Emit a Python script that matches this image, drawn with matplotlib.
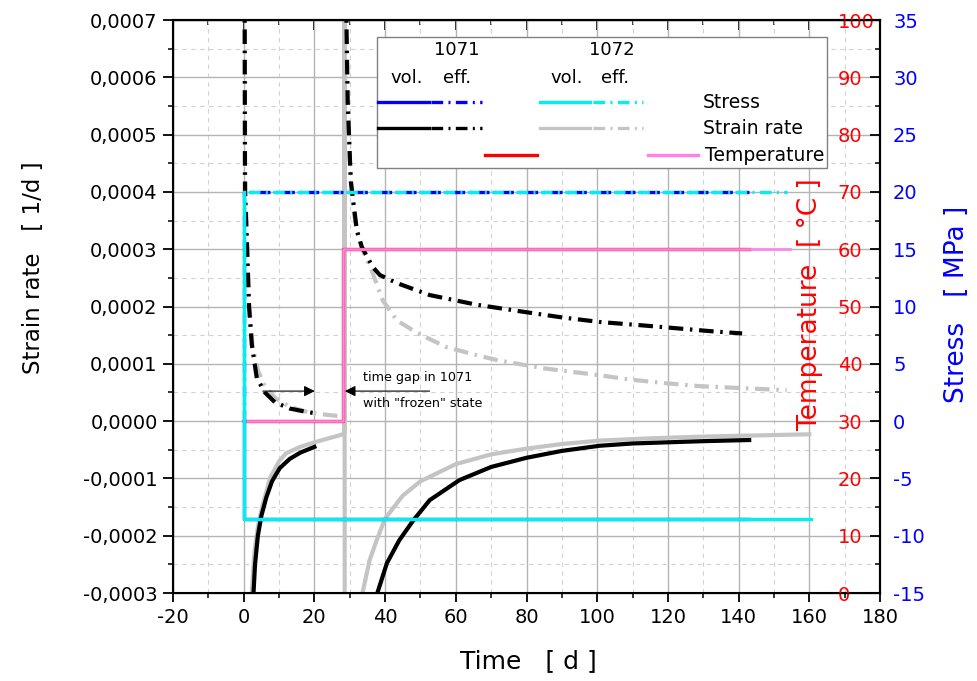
"""
Strain rate, temperature and stress of the creep tests 1071 and 1072.

Three y axes share one time axis:
strain rate on the left, temperature and stress on the right.
"""

import matplotlib.pyplot as plt
import numpy as np
from matplotlib.lines import Line2D
from matplotlib.patches import Rectangle
from matplotlib.ticker import FuncFormatter, MultipleLocator

nan = np.nan

# strain rates [1e-6 1/d], nan separates the parts before / after the time gap
SR71_EFF_T = [0.25, 0.35, 0.8, 1.5, 2.3, 3.7, 6.0, 8.8, 13.0, 17.8, 20.0, nan,
              28.8, 29.1, 29.4, 30.3, 32.0, 33.4, 36.5, 38.5, 43.3, 52.6, 66.0,
              80.0, 90.0, 100.7, 113.0, 122.5, 132.0, 141.0]
SR71_EFF = [800, 400, 330, 200, 133, 75, 50, 33, 22, 16, 14, nan,
            800, 680, 560, 418, 333, 304, 269, 255, 241, 220, 203,
            190, 181, 173, 167, 162, 157, 153]

SR72_EFF_T = [0.25, 0.4, 0.8, 1.5, 2.5, 4.0, 6.0, 9.0, 13.0, 18.0, 22.0, 26.6, nan,
              28.7, 29.2, 30.0, 31.0, 32.0, 33.7, 36.5, 39.3, 43.3, 49.0, 57.4,
              66.0, 72.0, 85.0, 100.7, 110.0, 119.6, 129.0, 139.5, 153.6]
SR72_EFF = [800, 450, 340, 210, 130, 89, 60, 40, 25, 16, 12, 9, nan,
            800, 600, 450, 370, 330, 298, 258, 211, 176, 154, 129,
            115, 106, 92, 80, 72, 66, 61, 58, 54]

SR71_VOL_T = [2.6, 3.2, 4.0, 5.0, 6.4, 8.0, 10.2, 13.0, 16.0, 20.0, nan,
              37.8, 40.5, 44.0, 48.0, 52.6, 61.0, 70.0, 80.0, 90.0, 100.7,
              110.0, 120.0, 130.0, 143.0]
SR71_VOL = [-320, -250, -200, -165, -133, -105, -82, -66, -55, -45, nan,
            -300, -248, -208, -173, -138, -103, -80, -64, -52, -43,
            -39, -37, -35, -33]

SR72_VOL_T = [2.3, 3.0, 4.0, 5.0, 7.4, 10.0, 12.0, 16.0, 20.0, 24.0, 27.0,
              28.4, 28.5, 28.6, nan,
              33.6, 35.6, 37.6, 40.0, 45.0, 50.0, 60.0, 70.0, 80.0, 90.0,
              100.7, 115.0, 130.0, 145.0, 160.0]
SR72_VOL = [-300, -230, -185, -155, -100, -70, -56, -45, -37, -30, -25,
            -22, 900, -900, nan,
            -300, -243, -208, -170, -130, -105, -75, -58, -48, -40,
            -34, -30, -27, -25, -23]

# temperature [°C]
T71_T = [0.0, 28.0, 28.0, 143.0]
T71 = [30, 30, 60, 60]
T72_T = [0.0, 28.0, 28.0, 154.5]
T72 = [30, 30, 60, 60]

# stress [MPa]
S71_VOL_T = [0.0, 0.0, 143.0]
S71_VOL = [0, -8.5, -8.5]
S71_EFF_T = [0.0, 0.0, 143.0]
S71_EFF = [0, 20, 20]
S72_VOL_T = [0.0, 0.0, 160.5]
S72_VOL = [20, -8.5, -8.5]
S72_EFF_T = [0.0, 0.0, 153.6]
S72_EFF = [0, 20, 20]

BLUE = "#0000ff"
CYAN = "#00f0f0"
GRAY = "#c4c4c4"
RED = "#ff0000"
PINK = "#ff80e8"
DASHDOT = (0, (3.5, 1.6, 0.6, 1.6))
DASHDOT_SHIFT = (3.0, (3.5, 1.6, 0.6, 1.6))


def to_axes(px: float, py: float) -> tuple:
    """Convert picture pixels to axes fractions (for the legend box)."""
    return (px - 173) / 707, (593 - py) / 573


def comma_fmt(v: float, pos: int) -> str:
    """Format strain-rate ticks with a decimal comma."""
    s = f"{v:.4f}".replace(".", ",")
    if s == "-0,0000":
        s = "0,0000"
    return s


def draw_legend(ax) -> None:
    """Draw the hand made legend box."""
    x0, y0 = to_axes(377, 168)
    x1, y1 = to_axes(827, 37)
    ax.add_patch(Rectangle((x0, y0), x1 - x0, y1 - y0, transform=ax.transAxes,
                           facecolor="white", edgecolor="#808080", lw=1.0,
                           zorder=20))
    for txt, px, py in [("1071", 457, 50), ("1072", 612, 50),
                        ("vol.", 407, 78), ("eff.", 457, 78),
                        ("vol.", 567, 78), ("eff.", 615, 78)]:
        x, y = to_axes(px, py)
        ax.text(x, y, txt, transform=ax.transAxes, ha="center", va="center",
                fontsize=13, zorder=21)

    rows = [
        (102, BLUE, CYAN, "Stress"),
        (128, "black", GRAY, "Strain rate"),
    ]
    for py, c1, c2, name in rows:
        for px0, px1, col, ls in [(378, 429, c1, "-"), (431, 482, c1, DASHDOT),
                                  (540, 590, c2, "-"), (593, 643, c2, DASHDOT)]:
            xa, y = to_axes(px0, py)
            xb, _ = to_axes(px1, py)
            ax.add_line(Line2D([xa, xb], [y, y], transform=ax.transAxes,
                               color=col, lw=2.4, ls=ls, zorder=21))
        x, y = to_axes(703, py)
        ax.text(x, y, name, transform=ax.transAxes, ha="left", va="center",
                fontsize=13.5, zorder=21)

    for px0, px1, col in [(485, 537, RED), (648, 698, PINK)]:
        xa, y = to_axes(px0, 155)
        xb, _ = to_axes(px1, 155)
        ax.add_line(Line2D([xa, xb], [y, y], transform=ax.transAxes,
                           color=col, lw=2.4, zorder=21))
    x, y = to_axes(705, 155)
    ax.text(x, y, "Temperature", transform=ax.transAxes, ha="left",
            va="center", fontsize=13.5, zorder=21)


def main() -> None:
    """Make the figure."""
    plt.rcParams["font.family"] = ["DejaVu Sans"]
    plt.rcParams["axes.unicode_minus"] = False
    fig, ax = plt.subplots(figsize=(9.77, 6.81), dpi=100)
    fig.subplots_adjust(left=0.1771, right=0.9007, bottom=0.1292, top=0.9706)

    scale = 1e-6
    sr = lambda v: np.array(v, dtype=float) * scale  # noqa: E731

    # strain rate
    ax.plot(SR72_VOL_T, sr(SR72_VOL), color=GRAY, lw=3.0)
    ax.plot(SR72_EFF_T, sr(SR72_EFF), color=GRAY, lw=3.0, ls=DASHDOT)
    ax.plot(SR71_VOL_T, sr(SR71_VOL), color="black", lw=3.0)
    ax.plot(SR71_EFF_T, sr(SR71_EFF), color="black", lw=3.0, ls=DASHDOT)

    ax.set_xlim(-20, 180)
    ax.set_ylim(-0.0003, 0.0007)
    ax.set_xticks(np.arange(-20, 181, 20))
    ax.xaxis.set_minor_locator(MultipleLocator(10))
    ax.set_yticks(np.arange(-0.0003, 0.00071, 0.0001))
    ax.yaxis.set_minor_locator(MultipleLocator(0.00005))
    ax.yaxis.set_major_formatter(FuncFormatter(comma_fmt))
    ax.tick_params(axis="both", which="major", labelsize=14, width=1.3)
    ax.tick_params(axis="y", which="major", direction="out", length=7, pad=4)
    ax.tick_params(axis="y", which="minor", direction="out", length=3.5, width=1.1)
    ax.tick_params(axis="x", which="major", direction="out", length=6.5, pad=4)
    ax.tick_params(axis="x", which="minor", direction="out", length=3.5, width=1.1)
    ax.grid(which="major", color="#b4b4b4", lw=1.0, ls="-")
    ax.grid(which="minor", color="#d2d2d2", lw=0.8, ls=(0, (4, 4)))
    ax.set_axisbelow(True)
    for side in ax.spines.values():
        side.set_linewidth(1.5)

    top = ax.secondary_xaxis("top")
    top.set_xticks(np.arange(-20, 181, 20))
    top.xaxis.set_minor_locator(MultipleLocator(10))
    top.tick_params(axis="x", which="major", direction="in", length=7,
                    width=1.3, labeltop=False)
    top.tick_params(axis="x", which="minor", direction="in", length=3.5,
                    width=1.1)
    top.spines["top"].set_linewidth(1.5)

    ax.set_xlabel("Time   [ d ]", fontsize=18)
    ax.xaxis.set_label_coords(0.502, -0.097)
    ax.set_ylabel("Strain rate   [ 1/d ]", fontsize=16.5)
    ax.yaxis.set_label_coords(-0.181, 0.567)

    # time gap annotation
    ax.annotate("", xy=(20.1, 0.0000524), xytext=(5.4, 0.0000524),
                arrowprops=dict(arrowstyle="-|>", color="black", lw=0.8,
                                mutation_scale=16, shrinkA=0, shrinkB=0))
    ax.annotate("", xy=(28.6, 0.0000524), xytext=(52.6, 0.0000524),
                arrowprops=dict(arrowstyle="-|>", color="black", lw=0.8,
                                mutation_scale=16, shrinkA=0, shrinkB=0))
    ax.text(33.7, 0.0000768, "time gap in 1071", fontsize=9.2,
            ha="left", va="center")
    ax.text(33.7, 0.0000314, 'with "frozen" state', fontsize=9.2,
            ha="left", va="center")

    # temperature
    ax_t = ax.twinx()
    ax_t.plot(T71_T, T71, color=RED, lw=2.4)
    ax_t.plot(T72_T, T72, color=PINK, lw=1.9)
    ax_t.set_ylim(0, 100)
    ax_t.set_yticks(np.arange(0, 101, 10))
    ax_t.tick_params(axis="y", length=0, pad=-30.5, labelsize=14,
                     labelcolor=RED)
    ax_t.spines["right"].set_visible(False)
    ax_t.set_ylabel("Temperature  [ °C ]", color=RED, fontsize=19)
    ax_t.yaxis.set_label_coords(0.883, 0.503)

    # stress
    ax_s = ax.twinx()
    ax_s.plot(S71_VOL_T, S71_VOL, color=BLUE, lw=2.4)
    ax_s.plot(S71_EFF_T, S71_EFF, color=BLUE, lw=2.4, ls=DASHDOT)
    ax_s.plot(S72_VOL_T, S72_VOL, color=CYAN, lw=2.4)
    ax_s.plot(S72_EFF_T, S72_EFF, color=CYAN, lw=2.4, ls=DASHDOT_SHIFT)
    ax_s.set_ylim(-15, 35)
    ax_s.set_yticks(np.arange(-15, 36, 5))
    ax_s.yaxis.set_minor_locator(MultipleLocator(2.5))
    ax_s.tick_params(axis="y", which="major", direction="in", length=7,
                     width=1.3, pad=9.4, labelsize=14, labelcolor=BLUE)
    ax_s.tick_params(axis="y", which="minor", direction="in", length=3.5,
                     width=1.1)
    ax_s.spines["right"].set_linewidth(1.5)
    ax_s.set_ylabel("Stress   [ MPa ]", color=BLUE, fontsize=19)
    ax_s.yaxis.set_label_coords(1.090, 0.504)

    draw_legend(ax_s)

    fig.savefig("out.png", dpi=100)


if __name__ == "__main__":
    main()
